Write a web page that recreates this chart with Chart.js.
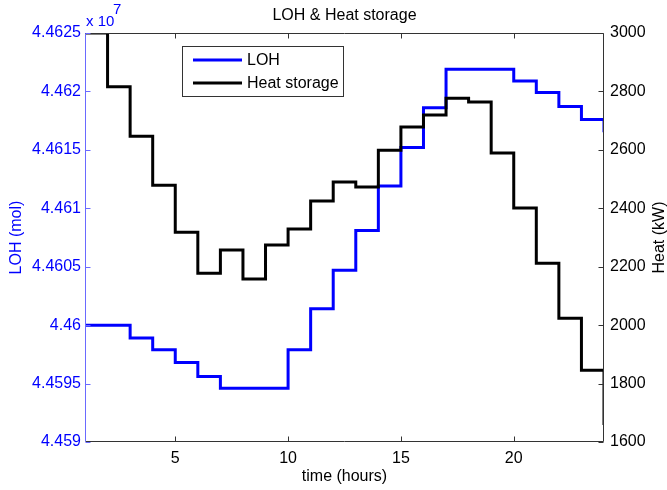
<!DOCTYPE html>
<html>
<head>
<meta charset="utf-8">
<title>LOH &amp; Heat storage</title>
<script src="https://cdn.jsdelivr.net/npm/chart.js@4.4.0/dist/chart.umd.min.js"></script>
<style>
  html, body { margin: 0; padding: 0; background: #fff; }
  canvas { display: block; }
</style>
</head>
<body>
<canvas id="lohChart" width="667" height="490"></canvas>
<script>
// hour at which each stair step starts
const hours = [1, 2, 3, 4, 5, 6, 7, 8, 9, 10, 11, 12, 13, 14, 15, 16, 17, 18, 19, 20, 21, 22, 23, 24];
// LOH in mol (axis shows it as x 10^7)
const loh = [44600000, 44600000, 44598900, 44597900, 44596800, 44595600, 44594600, 44594600,
             44594600, 44597900, 44601400, 44604700, 44608100, 44611900, 44615200, 44618600,
             44621900, 44621900, 44621900, 44620900, 44619900, 44618700, 44617600, 44616500];
// heat storage in kW
const heat = [3000, 2816, 2647, 2479, 2318, 2178, 2257, 2158, 2274, 2329, 2425, 2490,
              2473, 2599, 2678, 2719, 2777, 2764, 2589, 2401, 2212, 2024, 1846, 1658];

const xTicks = [5, 10, 15, 20];
const lohTicks = [44590000, 44595000, 44600000, 44605000, 44610000, 44615000, 44620000, 44625000];
const heatTicks = [1600, 1800, 2000, 2200, 2400, 2600, 2800, 3000];

const seriesNames = ['LOH', 'Heat storage'];
const seriesColors = ['#0000ff', '#000000'];

Chart.defaults.font.family = '"Liberation Sans", Arial, Helvetica, sans-serif';

const tickFont = { size: 16 };
const FONT = '"Liberation Sans", Arial, sans-serif';

// matlab style box, inward ticks, title, right label and legend
const matlabFrame = {
  id: 'matlabFrame',
  afterDraw(chart) {
    const { ctx, chartArea: a, scales } = chart;
    const l = a.left + 0.5, r = a.right - 0.5, t = a.top + 0.5, b = a.bottom - 0.5;
    ctx.save();
    ctx.lineWidth = 1;

    ctx.strokeStyle = '#333333';
    ctx.beginPath();
    ctx.moveTo(l, t); ctx.lineTo(r, t); ctx.lineTo(r, b); ctx.lineTo(l, b);
    xTicks.forEach(v => {
      const px = Math.round(scales.x.getPixelForValue(v)) + 0.5;
      ctx.moveTo(px, t); ctx.lineTo(px, t + 5);
      ctx.moveTo(px, b); ctx.lineTo(px, b - 5);
    });
    heatTicks.forEach(v => {
      const py = Math.round(scales.yR.getPixelForValue(v)) + 0.5;
      ctx.moveTo(r, py); ctx.lineTo(r - 5, py);
    });
    ctx.stroke();

    ctx.strokeStyle = '#6a6aff';
    ctx.beginPath();
    ctx.moveTo(l, t); ctx.lineTo(l, b);
    lohTicks.forEach(v => {
      const py = Math.round(scales.yL.getPixelForValue(v)) + 0.5;
      ctx.moveTo(l, py); ctx.lineTo(l + 5, py);
    });
    ctx.stroke();

    // title
    ctx.fillStyle = '#000';
    ctx.font = '16px ' + FONT;
    ctx.textAlign = 'center';
    ctx.textBaseline = 'middle';
    ctx.fillText('LOH & Heat storage', (a.left + a.right) / 2, 16);

    // right axis label, reads bottom to top like the left one
    ctx.save();
    ctx.translate(660, (a.top + a.bottom) / 2);
    ctx.rotate(-Math.PI / 2);
    ctx.fillText('Heat (kW)', 0, 0);
    ctx.restore();

    // exponent label of the left axis
    ctx.fillStyle = '#0000ff';
    ctx.font = '15px ' + FONT;
    ctx.textAlign = 'left';
    ctx.textBaseline = 'alphabetic';
    ctx.fillText('x 10', 86, 26);
    ctx.fillText('7', 113, 14);

    // legend
    const bx = 182.5, by = 46.5, bw = 161, bh = 50;
    ctx.fillStyle = '#fff';
    ctx.fillRect(bx, by, bw, bh);
    ctx.strokeStyle = '#333333';
    ctx.strokeRect(bx, by, bw, bh);
    ctx.font = '16px ' + FONT;
    ctx.textBaseline = 'middle';
    seriesNames.forEach((name, i) => {
      const y = 60 + i * 23;
      ctx.strokeStyle = seriesColors[i];
      ctx.lineWidth = 3;
      ctx.beginPath();
      ctx.moveTo(193, y); ctx.lineTo(242, y);
      ctx.stroke();
      ctx.fillStyle = '#000';
      ctx.fillText(name, 247, y + 1);
    });
    ctx.restore();
  }
};

new Chart(document.getElementById('lohChart'), {
  type: 'line',
  data: {
    datasets: [
      {
        label: seriesNames[0],
        data: hours.map((h, i) => ({ x: h, y: loh[i] })),
        yAxisID: 'yL',
        borderColor: seriesColors[0],
        borderWidth: 3,
        stepped: 'before',
        pointRadius: 0,
        fill: false,
        order: 2
      },
      {
        label: seriesNames[1],
        data: hours.map((h, i) => ({ x: h, y: heat[i] })),
        yAxisID: 'yR',
        borderColor: seriesColors[1],
        borderWidth: 3,
        stepped: 'before',
        pointRadius: 0,
        fill: false,
        order: 1
      }
    ]
  },
  options: {
    responsive: false,
    animation: false,
    layout: { padding: { top: 33 } },
    plugins: {
      legend: { display: false },
      tooltip: { enabled: false },
      title: { display: false }
    },
    scales: {
      x: {
        type: 'linear',
        position: 'bottom',
        min: 1,
        max: 24,
        grid: { display: false, drawTicks: false },
        border: { display: false },
        afterBuildTicks: s => { s.ticks = xTicks.map(v => ({ value: v })); },
        afterFit: s => { s.height = 48; },
        ticks: { color: '#000', font: tickFont, padding: 7, maxRotation: 0 },
        title: {
          display: true, text: 'time (hours)', color: '#000',
          font: { size: 16, lineHeight: 1 }, padding: { top: 0, bottom: 5 }
        }
      },
      yL: {
        type: 'linear',
        position: 'left',
        min: lohTicks[0],
        max: lohTicks[lohTicks.length - 1],
        grid: { display: false, drawTicks: false },
        border: { display: false },
        afterBuildTicks: s => { s.ticks = lohTicks.map(v => ({ value: v })); },
        afterFit: s => { s.width = 85; },
        ticks: {
          color: '#0000ff', font: tickFont, padding: 4,
          callback: v => String(+(v / 1e7).toFixed(4))
        },
        title: {
          display: true, text: 'LOH (mol)', color: '#0000ff',
          font: { size: 16, lineHeight: 1 }, padding: { top: 9, bottom: 0 }
        }
      },
      yR: {
        type: 'linear',
        position: 'right',
        min: heatTicks[0],
        max: heatTicks[heatTicks.length - 1],
        grid: { display: false, drawTicks: false },
        border: { display: false },
        afterBuildTicks: s => { s.ticks = heatTicks.map(v => ({ value: v })); },
        afterFit: s => { s.width = 63; },
        ticks: { color: '#000', font: tickFont, padding: 6, callback: v => String(v) }
      }
    }
  },
  plugins: [matlabFrame]
});
</script>
</body>
</html>
